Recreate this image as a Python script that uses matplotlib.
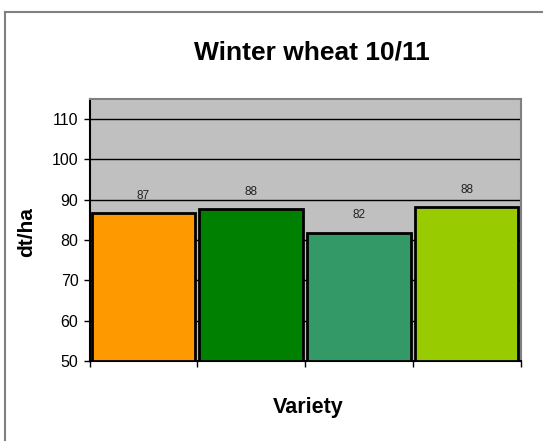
import matplotlib
matplotlib.use("Agg")
import matplotlib.pyplot as plt
from matplotlib.lines import Line2D

plt.rcParams['font.family'] = ['Liberation Sans', 'DejaVu Sans']

varieties = ["Variety 1", "Variety 2", "Variety 3", "Variety 4"]
yields = [86.6, 87.6, 81.8, 88.1]
labels = ["87", "88", "82", "88"]
colors = ["#FF9900", "#008000", "#339966", "#99CC00"]
yticks = [50, 60, 70, 80, 90, 100, 110]

W, H = 543, 441
fig = plt.figure(figsize=(W/100, H/100), dpi=100)
ax = fig.add_axes([89.5/W, 1-361/H, 431/W, 262/H])
ax.set_facecolor("#C0C0C0")

x = list(range(len(varieties)))
ax.bar(x, [v - 50 for v in yields], bottom=50, width=0.96, color=colors,
       edgecolor="black", linewidth=2, zorder=3)
for xi, v, l in zip(x, yields, labels):
    ax.text(xi, v + 2.9, l, ha="center", va="bottom", fontsize=8.5, color="#222222", zorder=4)

ax.set_xlim(-0.5, len(varieties) - 0.5)
ax.set_ylim(50, 115)
ax.set_yticks(yticks)
ax.set_yticklabels([str(t) for t in yticks], fontsize=11.5)
ax.set_xticks([i - 0.5 for i in range(len(varieties) + 1)])
ax.set_xticklabels([])
ax.tick_params(axis='both', direction='out', length=4, width=1, color='black')
ax.tick_params(axis='y', pad=4)
ax.yaxis.grid(True, color='black', linewidth=1, zorder=1)
ax.set_axisbelow(True)
for s in ['left', 'bottom']:
    ax.spines[s].set_color('black')
    ax.spines[s].set_linewidth(1.5)
for s in ['top', 'right']:
    ax.spines[s].set_color('#808080')
    ax.spines[s].set_linewidth(1.5)

fig.text(308/W, 1 - 408/H, "Variety", ha='center', va='center',
         fontsize=15.5, fontweight='bold')
fig.text(27/W, 1 - 232/H, "dt/ha", ha='center', va='center', rotation=90,
         fontsize=15, fontweight='bold')
fig.text(311.5/W, 1 - 52/H, "Winter wheat 10/11", ha='center', va='center',
         fontsize=19, fontweight='bold')

# chart-area border (only left and top visible in the crop)
fig.lines.append(Line2D([5/W, 5/W], [0, 1 - 12/H], transform=fig.transFigure,
                        color='#808080', linewidth=1.5))
fig.lines.append(Line2D([5/W, 1], [1 - 12/H, 1 - 12/H], transform=fig.transFigure,
                        color='#808080', linewidth=1.5))

fig.savefig("out.png", dpi=100)
